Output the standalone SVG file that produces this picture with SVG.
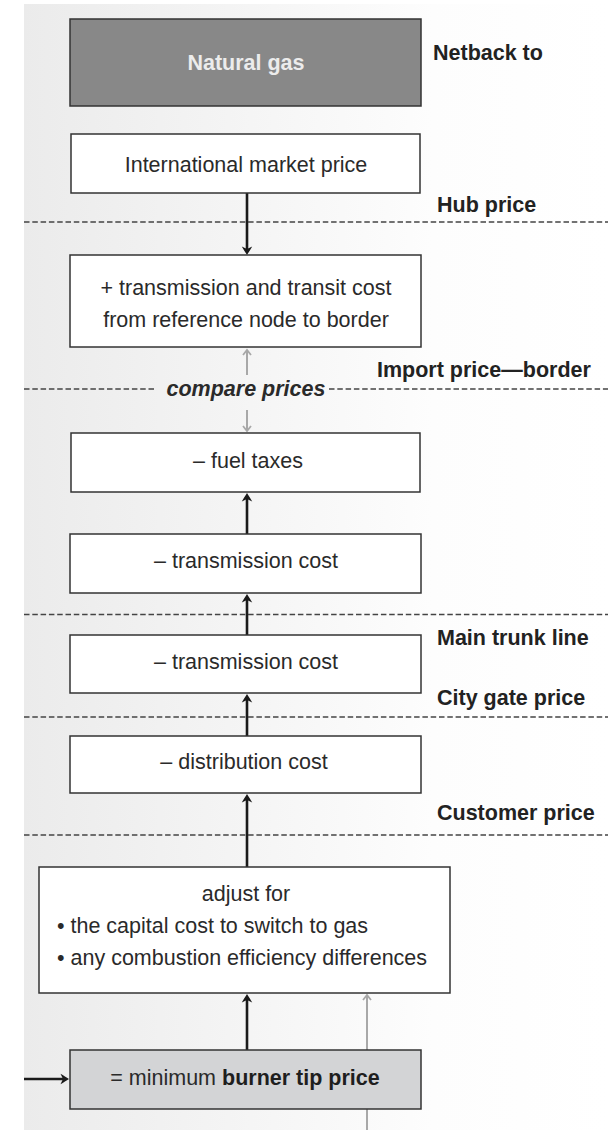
<svg xmlns="http://www.w3.org/2000/svg" width="608" height="1130" viewBox="0 0 608 1130">
<defs>
<linearGradient id="bg" x1="24" y1="0" x2="608" y2="0" gradientUnits="userSpaceOnUse">
<stop offset="0" stop-color="#ebebeb"/>
<stop offset="0.7" stop-color="#fdfdfd"/>
<stop offset="1" stop-color="#ffffff"/>
</linearGradient>
<marker id="ah" markerUnits="userSpaceOnUse" markerWidth="12" markerHeight="12" viewBox="0 0 12 12" refX="6" refY="6" orient="auto">
<path d="M10,6 C7.5,4.5 4.5,2.5 1.5,0.8 L4,6 L1.5,11.2 C4.5,9.5 7.5,7.5 10,6 z" fill="#1a1a1a"/>
</marker>
<marker id="ahg" markerUnits="userSpaceOnUse" markerWidth="12" markerHeight="12" viewBox="0 0 12 12" refX="7" refY="6" orient="auto">
<path d="M2,2 L7,6 L2,10" fill="none" stroke="#a8a8a8" stroke-width="1.8"/>
</marker>
</defs>
<style>
.box{fill:#ffffff;stroke:#333333;stroke-width:1.5}
.t{font-family:"Liberation Sans",Arial,sans-serif;font-size:21.5px;fill:#2a2a2a}
.c{text-anchor:middle}
.lab{font-family:"Liberation Sans",Arial,sans-serif;font-size:21.5px;font-weight:bold;fill:#222222}
.dash{stroke:#444444;stroke-width:1.3;stroke-dasharray:5.5 2.8;fill:none}
.ar{stroke:#1a1a1a;stroke-width:2.6;fill:none;marker-end:url(#ah)}
.arg{stroke:#a8a8a8;stroke-width:2;fill:none;marker-end:url(#ahg)}
</style>
<rect x="0" y="0" width="608" height="1130" fill="#ffffff"/>
<rect x="24" y="4" width="584" height="1126" fill="url(#bg)"/>

<g id="guides">
<line class="dash" x1="24" y1="222" x2="608" y2="222"/>
<line class="dash" x1="24" y1="389" x2="154" y2="389"/>
<line class="dash" x1="329" y1="389" x2="608" y2="389"/>
<line class="dash" x1="24" y1="614.5" x2="608" y2="614.5"/>
<line class="dash" x1="24" y1="717" x2="608" y2="717"/>
<line class="dash" x1="24" y1="835" x2="608" y2="835"/>
</g>

<g id="labels">
<text class="lab" x="433" y="60">Netback to</text>
<text class="lab" x="437" y="212">Hub price</text>
<text class="lab" x="377" y="377">Import price—border</text>
<text class="lab" x="437" y="645">Main trunk line</text>
<text class="lab" x="437" y="705">City gate price</text>
<text class="lab" x="437" y="820">Customer price</text>
<text class="t c" x="246" y="396" font-weight="bold" font-style="italic" fill="#3a3a3a">compare prices</text>
</g>

<g id="connectors">
<line class="ar" x1="247" y1="193" x2="247" y2="251"/>
<line class="arg" x1="247" y1="375" x2="247" y2="350"/>
<line class="arg" x1="247" y1="410" x2="247" y2="431"/>
<line class="ar" x1="247" y1="534" x2="247" y2="497"/>
<line class="ar" x1="247" y1="635" x2="247" y2="598"/>
<line class="ar" x1="247" y1="736" x2="247" y2="698"/>
<line class="ar" x1="247" y1="867" x2="247" y2="798"/>
<line class="ar" x1="247" y1="1050" x2="247" y2="998"/>
<line class="arg" x1="367" y1="1130" x2="367" y2="995"/>
<line class="ar" x1="24" y1="1079" x2="65" y2="1079"/>
</g>

<g id="natural-gas">
<rect x="70" y="19" width="351" height="87" fill="#888888" stroke="#333333" stroke-width="1.5"/>
<text class="t c" x="246" y="70" font-weight="bold" style="fill:#ececec">Natural gas</text>
</g>

<g id="international-market-price">
<rect class="box" x="71" y="134" width="349" height="59"/>
<text class="t c" x="246" y="172">International market price</text>
</g>

<g id="transmission-transit">
<rect class="box" x="70" y="255" width="351" height="92"/>
<text class="t c" x="246" y="295">+ transmission and transit cost</text>
<text class="t c" x="246" y="327">from reference node to border</text>
</g>

<g id="fuel-taxes">
<rect class="box" x="71" y="433" width="349" height="59"/>
<text class="t c" x="248" y="468">– fuel taxes</text>
</g>

<g id="transmission-cost-1">
<rect class="box" x="70" y="534" width="351" height="59"/>
<text class="t c" x="246" y="568">– transmission cost</text>
</g>

<g id="transmission-cost-2">
<rect class="box" x="70" y="635" width="351" height="58"/>
<text class="t c" x="246" y="669">– transmission cost</text>
</g>

<g id="distribution-cost">
<rect class="box" x="70" y="736" width="351" height="57"/>
<text class="t c" x="244" y="769">– distribution cost</text>
</g>

<g id="adjust-for">
<rect class="box" x="39" y="867" width="411" height="126"/>
<text class="t c" x="246" y="901">adjust for</text>
<text class="t" x="57" y="933">• the capital cost to switch to gas</text>
<text class="t" x="57" y="965">• any combustion efficiency differences</text>
</g>

<g id="burner-tip-price">
<rect x="70" y="1050" width="351" height="59" fill="#d3d4d6" stroke="#333333" stroke-width="1.5"/>
<text class="t c" x="245" y="1085">= minimum <tspan font-weight="bold" fill="#1e1e1e">burner tip price</tspan></text>
</g>
</svg>
